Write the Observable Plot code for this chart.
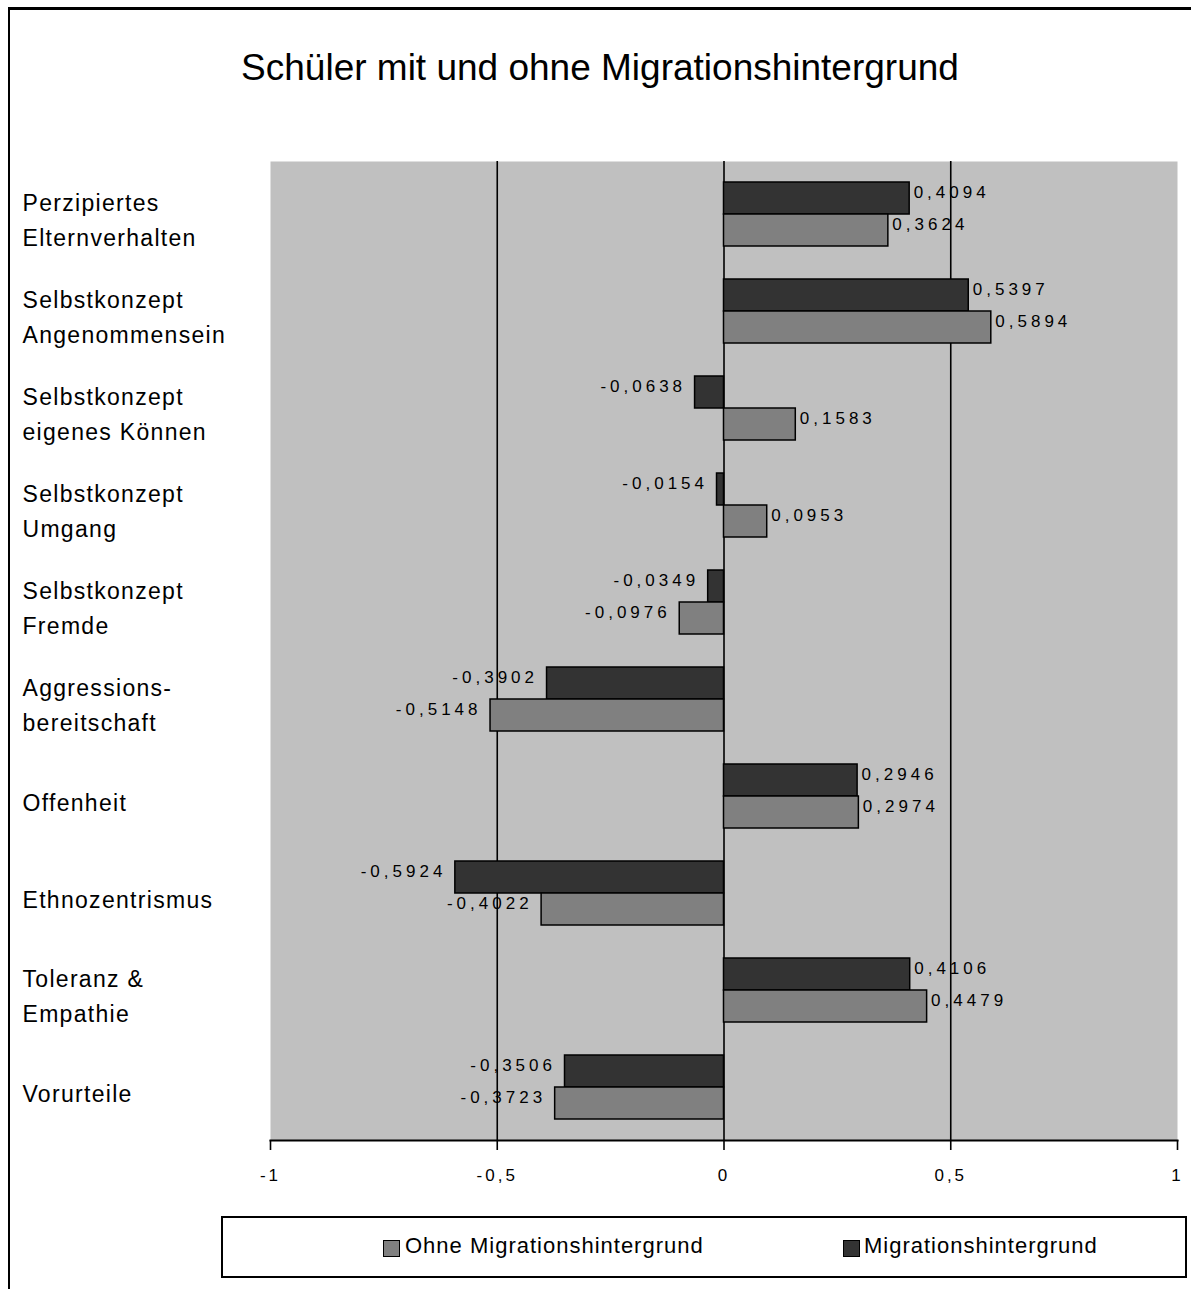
<!DOCTYPE html>
<html>
<head>
<meta charset="utf-8">
<script src="https://cdn.jsdelivr.net/npm/d3@7"></script>
<script src="https://cdn.jsdelivr.net/npm/@observablehq/plot@0.6"></script>
<style>
  html, body { margin: 0; padding: 0; background: #fff; }
  #page { position: relative; width: 1191px; height: 1289px; overflow: hidden; background: #fff; font-family: "Liberation Sans", Arial, sans-serif; }
  #outer { position: absolute; left: 8px; top: 7px; width: 2000px; height: 2000px; border-left: 2px solid #000; border-top: 3px solid #000; }
  #title { position: absolute; left: 0; top: 49px; width: 1200px; text-align: center; font-size: 37px; line-height: 37px; color: #000; }
  #chart { position: absolute; left: 0; top: 0; }
  #chart svg { overflow: visible; }
  g[aria-label="text"] text { letter-spacing: 4px; }
  g[aria-label="x-axis tick label"] text { letter-spacing: 3px; }
  g[aria-label="y-axis tick label"] text { letter-spacing: 1.3px; }
  #legend { position: absolute; left: 221px; top: 1216px; width: 966px; height: 62px; border: 2px solid #000; box-sizing: border-box; background: #fff; }
  .sw { position: absolute; width: 17px; height: 17px; border: 1.5px solid #000; box-sizing: border-box; }
  .lt { position: absolute; font-size: 22px; line-height: 22px; letter-spacing: 1px; white-space: nowrap; color: #000; }
</style>
</head>
<body>
<div id="page">
  <div id="outer"></div>
  <div id="title"></div>
  <div id="chart"></div>
  <div id="legend"></div>
</div>
<script>
const titleText = "Schüler mit und ohne Migrationshintergrund";
const categories = [
  "Perzipiertes\nElternverhalten",
  "Selbstkonzept\nAngenommensein",
  "Selbstkonzept\neigenes Können",
  "Selbstkonzept\nUmgang",
  "Selbstkonzept\nFremde",
  "Aggressions-\nbereitschaft",
  "Offenheit",
  "Ethnozentrismus",
  "Toleranz &\nEmpathie",
  "Vorurteile"
];
const migration = [0.4094, 0.5397, -0.0638, -0.0154, -0.0349, -0.3902, 0.2946, -0.5924, 0.4106, -0.3506];
const ohneMigration = [0.3624, 0.5894, 0.1583, 0.0953, -0.0976, -0.5148, 0.2974, -0.4022, 0.4479, -0.3723];
const xTicks = [-1, -0.5, 0, 0.5, 1];
const gridValues = [-0.5, 0, 0.5];
const seriesNames = ["Ohne Migrationshintergrund", "Migrationshintergrund"];
const seriesColors = ["#808080", "#333333"];
const legendSwatchX = [383, 843];
const legendTextX = [405, 864];

document.getElementById("title").textContent = titleText;

const rowsM = categories.map((c, i) => ({category: c, value: migration[i]}));
const rowsO = categories.map((c, i) => ({category: c, value: ohneMigration[i]}));
const fmt = v => String(v).replace(".", ",");

function labels(rows, dy) {
  return [
    Plot.text(rows, {filter: d => d.value >= 0, x: "value", y: "category", text: d => fmt(d.value),
      textAnchor: "start", dx: 4, dy, fontSize: 17, fill: "#000"}),
    Plot.text(rows, {filter: d => d.value < 0, x: "value", y: "category", text: d => fmt(d.value),
      textAnchor: "end", dx: -9, dy, fontSize: 17, fill: "#000"})
  ];
}

const chart = Plot.plot({
  width: 1191,
  height: 1205,
  marginTop: 161,
  marginBottom: 65,
  marginLeft: 270,
  marginRight: 14,
  style: {fontFamily: "'Liberation Sans', Arial, sans-serif", color: "#000", background: "transparent"},
  x: {domain: [-1, 1]},
  y: {domain: categories, paddingInner: 0.345, paddingOuter: 0.1725},
  marks: [
    Plot.frame({fill: "#c0c0c0", stroke: null}),
    Plot.ruleX(gridValues, {stroke: "#000", strokeWidth: 1.6}),
    Plot.barX(rowsM, {x1: 0, x2: "value", y: "category", fill: seriesColors[1], stroke: "#000", strokeWidth: 1.5, insetBottom: 32}),
    Plot.barX(rowsO, {x1: 0, x2: "value", y: "category", fill: seriesColors[0], stroke: "#000", strokeWidth: 1.5, insetTop: 32}),
    ...labels(rowsM, -22),
    ...labels(rowsO, 10),
    Plot.frame({anchor: "bottom", stroke: "#000", strokeWidth: 2}),
    Plot.axisX({ticks: xTicks, tickSize: 10, tickPadding: 18, tickFormat: fmt, fontSize: 17, label: null, stroke: "#000", strokeWidth: 1.6}),
    Plot.axisY({tickSize: 0, tickPadding: 248, textAnchor: "start", fontSize: 23, lineHeight: 1.5, dy: 3, label: null})
  ]
});
document.getElementById("chart").appendChild(chart);

const page = document.getElementById("page");
seriesNames.forEach((name, i) => {
  const sw = document.createElement("div");
  sw.className = "sw";
  sw.style.left = legendSwatchX[i] + "px";
  sw.style.top = "1240px";
  sw.style.background = seriesColors[i];
  page.appendChild(sw);
  const t = document.createElement("div");
  t.className = "lt";
  t.style.left = legendTextX[i] + "px";
  t.style.top = "1235px";
  t.textContent = name;
  page.appendChild(t);
});
</script>
</body>
</html>
